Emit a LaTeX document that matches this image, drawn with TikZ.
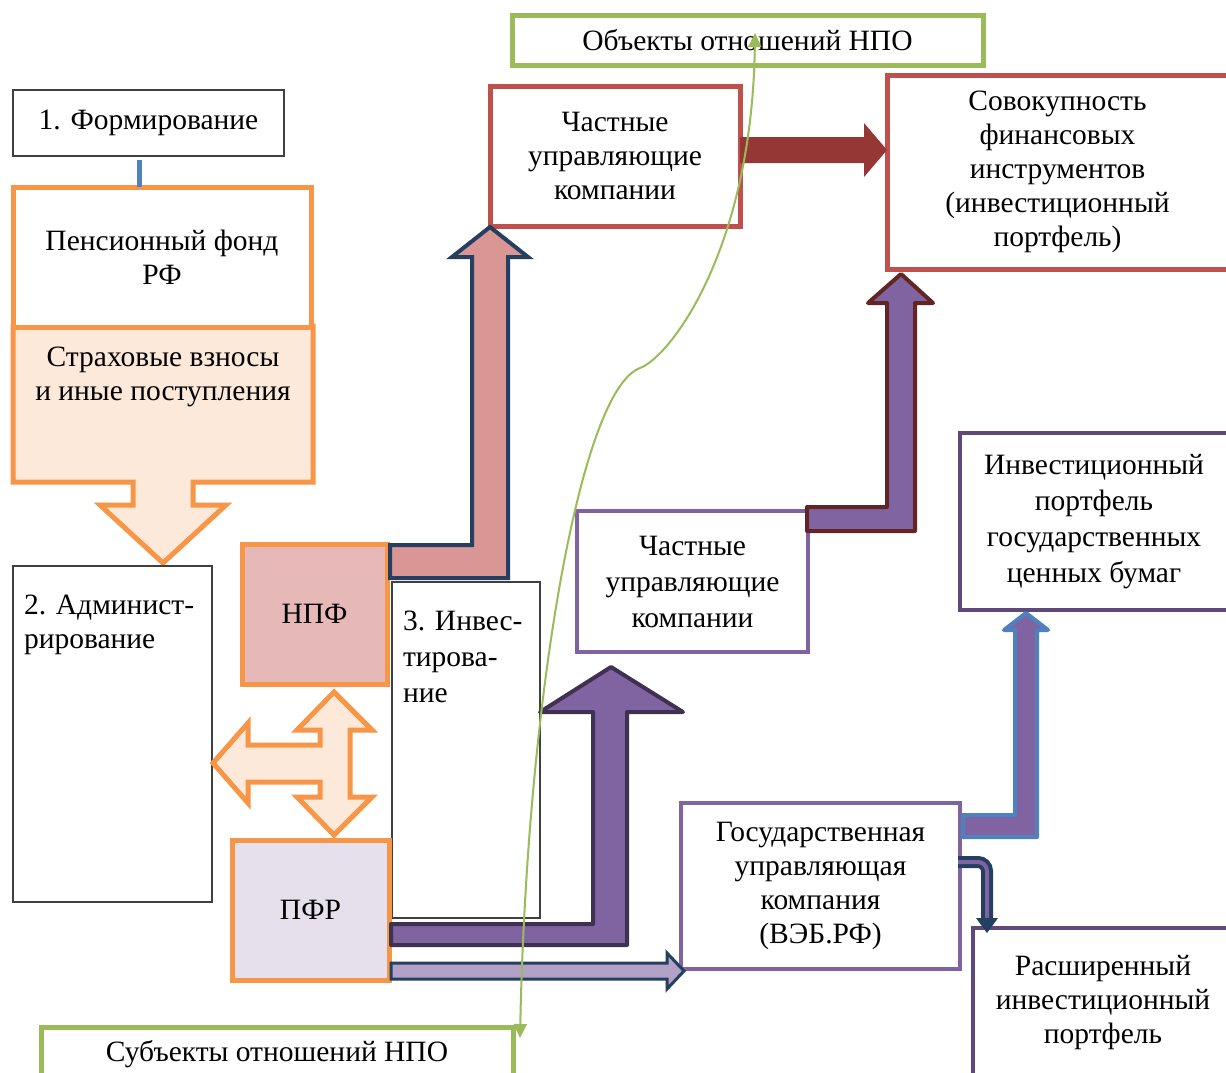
\documentclass[tikz,border=0pt]{standalone}
\usepackage{fontspec}
\setmainfont{Liberation Serif}
\usetikzlibrary{arrows.meta}
\definecolor{orng}{HTML}{F79646}
\definecolor{orngfill}{HTML}{FDE9D9}
\definecolor{npffill}{HTML}{E6B9B8}
\definecolor{pfrfill}{HTML}{E5E0EC}
\definecolor{redb}{HTML}{C0504D}
\definecolor{pinkfill}{HTML}{D99694}
\definecolor{navy}{HTML}{243F60}
\definecolor{darkred}{HTML}{953735}
\definecolor{grn}{HTML}{9BBB59}
\definecolor{purp}{HTML}{8064A2}
\definecolor{dpurp}{HTML}{3F3151}
\definecolor{mpurp}{HTML}{5F497A}
\definecolor{blueb}{HTML}{4F81BD}
\definecolor{maroon}{HTML}{632523}
\definecolor{lpurp}{HTML}{B2A2C7}
\begin{document}
\begin{tikzpicture}[x=1pt,y=-1pt,
  every node/.style={inner sep=0pt, outer sep=0pt},
  txt/.style={font=\fontsize{29.5}{34}\selectfont, align=center},
  txtw/.style={font=\fontsize{29.5}{36}\selectfont, align=center},
  thinbox/.style={draw=black!75, line width=1.2pt, fill=white},
  obox/.style={draw=orng, line width=5pt},
  rbox/.style={draw=redb, line width=5pt, fill=white},
  gbox/.style={draw=grn, line width=5pt, fill=white},
  pbox/.style={draw=purp, line width=4.5pt, fill=white},
  mbox/.style={draw=mpurp, line width=4.5pt, fill=white},
  blk/.style={line width=4pt, line join=miter},
]
\clip (0,0) rectangle (1226,1072);
\fill[white] (0,0) rectangle (1226,1072);

% left column
\node[thinbox, txt, minimum width=271pt, minimum height=66pt] (f1) at (148.5,123) {1. Формирование};
\filldraw[fill=orngfill, draw=orng, line width=5pt, line join=miter]
  (13,326) -- (313,326) -- (313,482) -- (193,482) -- (193,505) -- (226,505)
  -- (163,563) -- (100,505) -- (133,505) -- (133,482) -- (13,482) -- cycle;
\node[obox, fill=white, txt, minimum width=298pt, minimum height=140pt] (pf) at (162,257) {Пенсионный фонд\\РФ};
\node[txt] (sv) at (163,377) {Страховые взносы\\и иные поступления};
\coordinate (t1) at (139,160);
\draw[blueb, line width=5pt] (t1) -- (t1 |- pf.north);

\node[thinbox, minimum width=199pt, minimum height=336pt] (adm) at (112.5,734) {};
\node[txt, align=left, anchor=north west] (admt) at (24,595) {2. Админист-\\рирование};

\node[obox, fill=npffill, txt, minimum width=145pt, minimum height=140pt] (npf) at (314.5,614) {НПФ};
\node[thinbox, minimum width=148pt, minimum height=336pt] (inv) at (466,750) {};
\node[txtw, align=left, anchor=north west] (invt) at (403,611) {3. Инвес-\\тирова-\\ние};
\node[obox, fill=pfrfill, txt, minimum width=157pt, minimum height=140pt] (pfr) at (310.5,910) {ПФР};

% four-way arrow
\filldraw[fill=orngfill, draw=orng, line width=5pt, line join=miter]
  (334,692) -- (372,730) -- (350,730) -- (350,797) -- (372,797) -- (334,835)
  -- (297,797) -- (320,797) -- (320,782) -- (248,782) -- (248,803) -- (213,763)
  -- (248,723) -- (248,745) -- (320,745) -- (320,730) -- (297,730) -- cycle;

% right part boxes
\node[rbox, txt, minimum width=250pt, minimum height=140pt] (ch1) at (615,156) {Частные\\управляющие\\компании};
\node[rbox, txt, minimum width=341pt, minimum height=194pt] (sov) at (1057.5,172) {Совокупность\\финансовых\\инструментов\\(инвестиционный\\портфель)};
\node[gbox, txt, minimum width=471pt, minimum height=50pt] (obj) at (747.5,40) {Объекты отношений НПО};
\node[pbox, txtw, minimum width=231pt, minimum height=141pt] (ch2) at (692.5,581.5) {Частные\\управляющие\\компании};
\node[pbox, txt, minimum width=279pt, minimum height=166pt] (gos) at (820.5,886) {Государственная\\управляющая\\компания\\(ВЭБ.РФ)};
\node[mbox, txtw, minimum width=268pt, minimum height=177pt] (ipg) at (1094,521.5) {Инвестиционный\\портфель\\государственных\\ценных бумаг};
\node[mbox, txt, minimum width=260pt, minimum height=150pt] (ras) at (1103,1003) {Расширенный\\инвестиционный\\портфель};
\node[gbox, txt, minimum width=472pt, minimum height=54pt] (sub) at (277,1054) {Субъекты отношений НПО};

% block arrows
\filldraw[blk, fill=pinkfill, draw=navy]
  (390,545) -- (472,545) -- (472,257) -- (452,257) -- (490,227) -- (528,257)
  -- (508,257) -- (508,578) -- (390,578) -- cycle;
\fill[darkred] (740,137) -- (864,137) -- (864,123) -- (887,150) -- (864,177) -- (864,163) -- (740,163) -- cycle;
\filldraw[blk, fill=purp, draw=maroon, line join=round]
  (807,507) -- (887,507) -- (887,303) -- (868,303) -- (901,274) -- (933,303)
  -- (915,303) -- (915,531) -- (807,531) -- cycle;
\filldraw[blk, fill=purp, draw=dpurp, line join=round]
  (391,924) -- (593,924) -- (593,712) -- (540,712) -- (611,667) -- (683,712)
  -- (627,712) -- (627,945) -- (391,945) -- cycle;
\filldraw[line width=3pt, fill=lpurp, draw=navy]
  (391,963) -- (667,963) -- (667,953) -- (684,971) -- (667,989) -- (667,979) -- (391,979) -- cycle;
\filldraw[blk, fill=purp, draw=blueb, line join=round]
  (963,815) -- (1015,815) -- (1015,630) -- (1004,630) -- (1026,613) -- (1048,630)
  -- (1037,630) -- (1037,837) -- (963,837) -- cycle;

% small bent arrow
\coordinate (b1) at (958,862);
\coordinate (b2) at (987,920);
\draw[navy, line width=12pt, rounded corners=9pt] (b1) -- (b1 -| b2) -- (b2);
\draw[purp, line width=4pt, rounded corners=9pt] (b1) -- (b1 -| b2) -- ([yshift=-2pt]b2);
\fill[navy] (976,918) -- (998,918) -- (987,933) -- cycle;

% green curve
\coordinate (gs) at (520,1038);
\coordinate (gm) at (640,368);
\coordinate (ge) at (755,33);
\draw[grn, line width=2pt, {Triangle[length=14pt,width=13pt]}-{Triangle[length=14pt,width=13pt]}]
  (gs) .. controls (527,700) and (580,390) .. (gm)
       .. controls (670,357) and (752,250) .. (ge);
\end{tikzpicture}
\end{document}
